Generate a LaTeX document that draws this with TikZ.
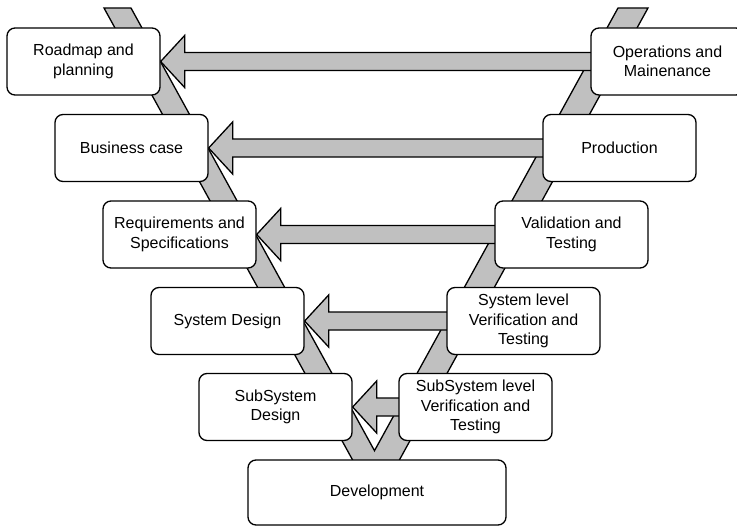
\documentclass[tikz,border=0pt]{standalone}
\usepackage{fontspec}
\setmainfont{Liberation Sans}
\usetikzlibrary{calc}
\pgfdeclarelayer{background}
\pgfsetlayers{background,main}
\definecolor{bandgray}{RGB}{192,192,192}
\tikzset{
  stagebox/.style={draw=black, fill=white, line width=1.3pt, rounded corners=8pt,
    minimum width=153pt, minimum height=67pt, align=center, inner sep=2pt,
    font=\fontsize{16}{19.5}\selectfont},
  band/.style={draw=black, fill=bandgray, line width=1.3pt, line join=miter},
  blockarrow/.style={draw=black, fill=bandgray, line width=1.3pt, line join=miter},
}
% block arrow from the west side of #1 to the east side of #2
\newcommand\feedbackarrow[2]{%
  \draw[blockarrow] (#2.east) -- ++(24,-26) -- ++(0,17)
    -- ([xshift=3pt,yshift=9pt]#1.west) -- ([xshift=3pt,yshift=-9pt]#1.west)
    -- ($(#2.east)+(24,9)$) -- ($(#2.east)+(24,26)$) -- cycle;}
\begin{document}
\begin{tikzpicture}[x=1pt,y=-1pt]
\useasboundingbox (0,0) rectangle (737,527);

% stage boxes: left branch (definition)
\path
  node[stagebox] (road) at (83.5,61.5) {Roadmap and\\planning}
  node[stagebox] (bcase) at (131.5,148) {Business case}
  node[stagebox] (req) at (179.5,234.5) {Requirements and\\Specifications}
  node[stagebox] (sysdes) at (227.5,321) {System Design}
  node[stagebox] (subdes) at (275.5,407) {SubSystem\\Design};

% right branch (integration and testing)
\path
  node[stagebox] (ops) at (667.5,61.5) {Operations and\\Mainenance}
  node[stagebox] (prod) at (619.5,148) {Production}
  node[stagebox] (val) at (571.5,234.5) {Validation and\\Testing}
  node[stagebox] (syslev) at (523.5,321) {System level\\Verification and\\Testing}
  node[stagebox] (subsyslev) at (475.5,407) {SubSystem level\\Verification and\\Testing};

% bottom of the V
\node[stagebox, minimum width=258pt, minimum height=65pt] (dev) at (377,492.5) {Development};

\begin{pgfonlayer}{background}
  % the V band behind the stages
  \draw[band] (104,8) -- (131,8) -- (374.5,450.7) -- (618,8) -- (648,8) -- (376,502.5) -- cycle;
  % feedback arrows between matching stages
  \feedbackarrow{ops}{road}
  \feedbackarrow{prod}{bcase}
  \feedbackarrow{val}{req}
  \feedbackarrow{syslev}{sysdes}
  \feedbackarrow{subsyslev}{subdes}
\end{pgfonlayer}
\end{tikzpicture}
\end{document}
